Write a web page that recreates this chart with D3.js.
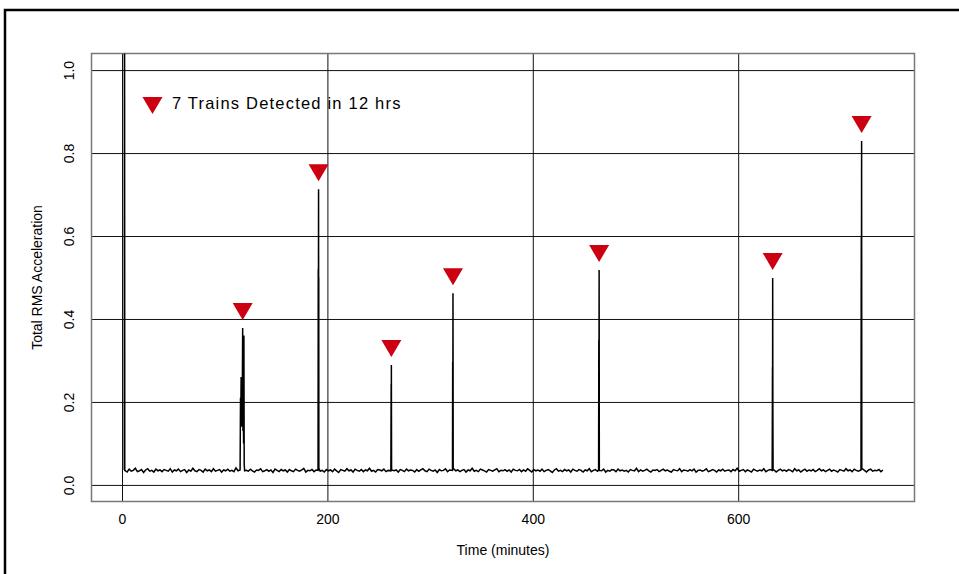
<!DOCTYPE html>
<html>
<head>
<meta charset="utf-8">
<script src="https://cdn.jsdelivr.net/npm/d3@7"></script>
<style>
  body { margin: 0; background: #fff; }
  .tick text { font-family: "Liberation Sans Narrow", "Arial Narrow", sans-serif; font-size: 14px; fill: #000; }
  .axis-title { font-family: "Liberation Sans Narrow", "Arial Narrow", sans-serif; font-size: 14px; }
  .legend-text { font-family: "Liberation Sans", Arial, sans-serif; font-size: 16.5px; letter-spacing: 1.2px; }
</style>
</head>
<body>
<svg width="959" height="574"></svg>
<script>
// Background RMS level, one sample every 2 minutes starting at t = 3
var baseStart = 3, baseStep = 2;
var baseline = [
  .036,.031,.038,.033,.035,.040,.032,.034,.037,.030,.036,.039,.033,.035,.031,.038,.034,.036,.032,.037,
  .035,.033,.039,.031,.036,.034,.038,.032,.035,.037,.030,.036,.033,.040,.034,.032,.037,.035,.031,.038,
  .034,.036,.032,.039,.033,.035,.037,.031,.036,.034,.038,.033,.035,.032,.041,.034,.036,.030,.037,.035,
  .033,.038,.034,.031,.036,.035,.039,.032,.034,.037,.033,.036,.030,.038,.035,.032,.037,.034,.036,.031,
  .037,.034,.032,.038,.035,.033,.036,.040,.031,.035,.034,.037,.032,.036,.039,.033,.035,.031,.037,.034,
  .036,.032,.038,.034,.030,.037,.035,.033,.039,.034,.036,.031,.038,.035,.033,.037,.032,.036,.034,.040,
  .033,.035,.031,.037,.036,.034,.038,.032,.035,.033,.039,.034,.036,.031,.037,.035,.032,.038,.034,.036,
  .035,.031,.037,.033,.036,.039,.034,.032,.038,.035,.033,.036,.030,.037,.034,.035,.039,.032,.036,.033,
  .038,.034,.036,.032,.035,.037,.031,.036,.034,.040,.033,.035,.032,.038,.036,.034,.031,.037,.035,.033,
  .036,.039,.032,.035,.034,.037,.033,.036,.031,.038,.035,.034,.037,.032,.036,.033,.039,.035,.031,.037,
  .034,.036,.033,.038,.032,.035,.037,.034,.030,.036,.039,.033,.035,.032,.037,.034,.036,.031,.038,.035,
  .033,.037,.035,.031,.036,.034,.039,.032,.035,.037,.033,.036,.034,.038,.031,.035,.033,.037,.036,.032,
  .038,.034,.036,.033,.035,.031,.037,.035,.034,.040,.032,.036,.033,.035,.038,.034,.031,.036,.035,.037,
  .032,.035,.038,.034,.036,.033,.031,.037,.035,.034,.039,.032,.036,.035,.033,.037,.034,.038,.031,.035,
  .036,.033,.035,.039,.032,.034,.037,.035,.031,.036,.034,.038,.033,.035,.036,.032,.037,.034,.040,.033,
  .035,.037,.032,.036,.034,.031,.038,.035,.033,.036,.034,.039,.032,.035,.037,.033,.036,.031,.035,.038,
  .034,.036,.033,.037,.035,.032,.039,.034,.036,.031,.035,.038,.033,.036,.034,.037,.032,.035,.039,.034,
  .036,.032,.035,.038,.033,.036,.034,.031,.037,.035,.033,.039,.034,.036,.032,.038,.035,.033,.037,.034,
  .035,.031,.036,.038,.033,.035,.034,.037,.032,.036
];

// Burst samples [minutes, RMS] around each event
var startBurst = [[2.2, 0.036], [2.4, 1.6], [2.7, 0.035]];
var train1 = [[115.0,0.036],[115.4,0.21],[115.7,0.17],[116.0,0.26],[116.3,0.14],[116.6,0.22],[116.9,0.15],
              [117.2,0.24],[117.5,0.378],[117.8,0.13],[118.1,0.20],[118.4,0.10],[118.7,0.36],[119.0,0.05],[119.4,0.034]];
var train2 = [[190.9,0.035],[191.1,0.52],[191.2,0.32],[191.3,0.49],[191.4,0.713],[191.5,0.34],[191.6,0.50],[191.7,0.04]];
var train3 = [[261.8,0.034],[262.1,0.243],[262.2,0.10],[262.3,0.289],[262.5,0.036]];
var train4 = [[321.8,0.035],[322.0,0.296],[322.1,0.12],[322.3,0.462],[322.5,0.04]];
var train5 = [[464.1,0.036],[464.3,0.349],[464.4,0.26],[464.5,0.33],[464.6,0.518],[464.8,0.035]];
var train6 = [[633.1,0.035],[633.3,0.186],[633.4,0.284],[633.5,0.20],[633.6,0.499],[633.8,0.17],[634.0,0.036]];
var train7 = [[719.6,0.036],[719.8,0.47],[719.9,0.598],[720.0,0.50],[720.1,0.60],[720.2,0.829],[720.4,0.04]];

// Detected trains (marker placed just above each peak)
var trainTimes = [117.5, 191.4, 262.3, 322.3, 464.6, 633.6, 720.2];
var trainPeaks = [0.378, 0.713, 0.289, 0.462, 0.518, 0.499, 0.829];

var xTicks = [0, 200, 400, 600];
var yTicks = [0.0, 0.2, 0.4, 0.6, 0.8, 1.0];
var legendLabel = "7 Trains Detected in 12 hrs";

var svg = d3.select("svg");
// plot box edges ("top" is reserved on window, so prefix them)
var pLeft = 91.5, pTop = 53.5, pRight = 914.5, pBottom = 501.5;

var x = d3.scaleLinear().domain([-29.7, 771.7]).range([pLeft, pRight]);
var y = d3.scaleLinear().domain([-0.04, 1.04]).range([pBottom, pTop]);

//Outer frame (only top & left visible)
svg.append("path")
  .attr("d", "M5,574 L5,10 L959,10")
  .attr("fill", "none").attr("stroke", "#000").attr("stroke-width", 2.5);

//Gridlines + tick labels
var xAxis = svg.append("g")
  .attr("transform", "translate(0," + pBottom + ")")
  .call(d3.axisBottom(x).tickValues(xTicks).tickFormat(d3.format("d"))
    .tickSize(-(pBottom - pTop)).tickPadding(13));
xAxis.select(".domain").remove();
xAxis.selectAll(".tick line").attr("stroke", "#111");

var yAxis = svg.append("g")
  .attr("transform", "translate(" + pLeft + ",0)")
  .call(d3.axisLeft(y).tickValues(yTicks).tickFormat(d3.format(".1f"))
    .tickSize(-(pRight - pLeft)));
yAxis.select(".domain").remove();
yAxis.selectAll(".tick line").attr("stroke", "#111");
yAxis.selectAll(".tick text")
  .attr("transform", "rotate(-90)")
  .attr("x", 0).attr("y", -18).attr("dy", null)
  .style("text-anchor", "middle");

//Plot box
svg.append("rect")
  .attr("x", pLeft).attr("y", pTop)
  .attr("width", pRight - pLeft).attr("height", pBottom - pTop)
  .attr("fill", "none").attr("stroke", "#777").attr("stroke-width", 1.5);

//Build the series: baseline samples outside the bursts, plus the bursts
var bursts = [startBurst, train1, train2, train3, train4, train5, train6, train7];
var windows = bursts.map(b => [b[0][0] - 1, b[b.length - 1][0] + 1]);
var series = baseline
  .map((v, i) => [baseStart + i * baseStep, v])
  .filter(p => !windows.some(w => p[0] > w[0] && p[0] < w[1]));
bursts.forEach(b => { series = series.concat(b); });
series.sort((a, b) => a[0] - b[0]);

svg.append("clipPath").attr("id", "plotclip")
  .append("rect")
  .attr("x", pLeft).attr("y", pTop)
  .attr("width", pRight - pLeft).attr("height", pBottom - pTop);

svg.append("path")
  .datum(series)
  .attr("clip-path", "url(#plotclip)")
  .attr("fill", "none")
  .attr("stroke", "#000")
  .attr("stroke-width", 1.5)
  .attr("d", d3.line().x(d => x(d[0])).y(d => y(d[1])));

//Train markers
function tri(cx, ty) {
  return "M" + (cx - 10) + "," + ty + "L" + (cx + 10) + "," + ty + "L" + cx + "," + (ty + 17) + "Z";
}
svg.selectAll(".marker")
  .data(trainTimes)
  .enter().append("path")
  .attr("class", "marker")
  .attr("fill", "#cc0010")
  .attr("d", (t, i) => tri(x(t), y(trainPeaks[i]) - 25));

//Legend
svg.append("path").attr("fill", "#cc0010").attr("d", tri(152.5, 97));
svg.append("text").attr("class", "legend-text")
  .attr("x", 172).attr("y", 108.5)
  .text(legendLabel);

//Axis titles
svg.append("text").attr("class", "axis-title")
  .attr("x", (pLeft + pRight) / 2).attr("y", 555)
  .attr("text-anchor", "middle")
  .text("Time (minutes)");
svg.append("text").attr("class", "axis-title")
  .attr("transform", "translate(42," + (pTop + pBottom) / 2 + ") rotate(-90)")
  .attr("text-anchor", "middle")
  .text("Total RMS Acceleration");
</script>
</body>
</html>
